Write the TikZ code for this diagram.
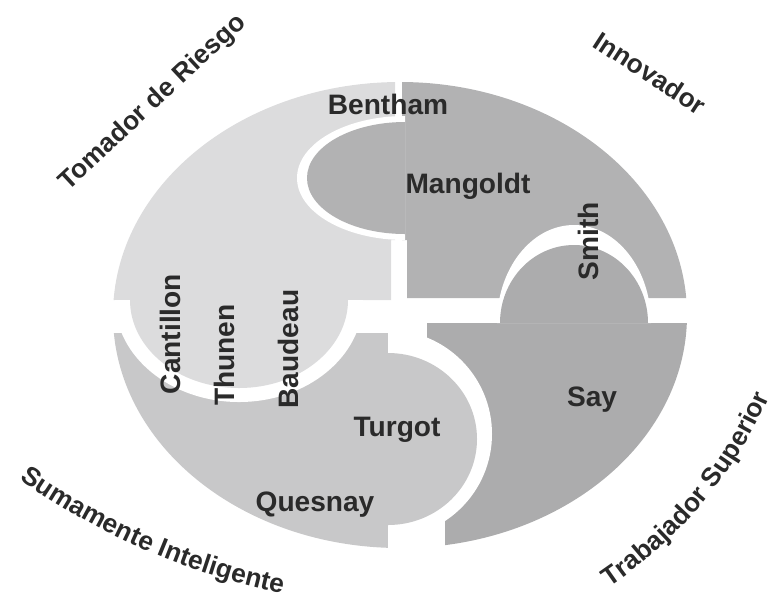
\documentclass[tikz,border=0pt]{standalone}
\usepackage{fontspec}
\setmainfont{Liberation Sans}
\usepackage{tikz}
\usetikzlibrary{decorations.text}
\definecolor{paleg}{HTML}{DCDCDD}
\definecolor{midg}{HTML}{C8C8C9}
\definecolor{darkg}{HTML}{B2B2B3}
\definecolor{deepg}{HTML}{ACACAD}
\definecolor{ink}{HTML}{2A2A2A}
\newcommand{\traitfont}{\fontsize{15}{18}\selectfont\bfseries}
\tikzset{
  thinker/.style={font=\fontsize{16}{19}\selectfont\bfseries, text=ink,
    inner sep=0pt},
  thinkerup/.style={thinker, rotate=90},
  trait/.style={font=\traitfont, text=ink, inner sep=0pt},
  traitarc/.style={decorate, decoration={text along path, text align=center,
    text color=ink, text={|\traitfont|#1}}},
  gap/.style={fill=white},
}

\begin{document}
\begin{tikzpicture}[x=0.02cm, y=-0.02cm]
\useasboundingbox (0,0) rectangle (780,600);
\begin{scope}
\clip (400,315) ellipse [x radius=287, y radius=233];
% quarters
\fill[paleg] (100,60) -- (395,60) -- (395,240) -- (391,240) -- (391,300)
  -- (100,300) -- cycle;
\fill[darkg] (402,60) -- (700,60) -- (700,298) -- (407,298) -- (407,240)
  -- (402,240) -- cycle;
\fill[midg] (100,333) rectangle (388,570);
\fill[deepg] (427,323) -- (700,323) -- (700,570) -- (445,570) -- (445,470)
  -- (427,470) -- cycle;
% notches
\fill[gap] (405,116) arc[start angle=-90, end angle=-270, x radius=108, y radius=62] -- cycle;
\fill[gap] (651,323) arc[start angle=0, end angle=-180, x radius=77, y radius=98] -- cycle;
\fill[gap] (388,330) arc[start angle=-90, end angle=90, radius=104] -- cycle;
\fill[gap] (115,300) arc[start angle=180, end angle=0, x radius=124, y radius=102] -- cycle;
% bulges
\fill[darkg] (405,122) arc[start angle=-90, end angle=-270, x radius=98, y radius=56] -- cycle;
\fill[deepg] (648,323) arc[start angle=0, end angle=-180, x radius=74, y radius=78] -- cycle;
\fill[midg] (388,353) arc[start angle=-90, end angle=90, x radius=89, y radius=86] -- cycle;
\fill[paleg] (130,300) arc[start angle=180, end angle=0, x radius=109, y radius=88] -- cycle;
\end{scope}

\node[thinker] (bentham) at (388,104) {Bentham};
\node[thinker] (mangoldt) at (468,186) {Mangoldt};
\node[thinkerup] (smith) at (588,241) {Smith};
\node[thinker] (say) at (592,400) {Say};
\node[thinker] (turgot) at (397,430) {Turgot};
\node[thinker] (quesnay) at (315,505) {Quesnay};
\node[thinkerup] (cantillon) at (170,334) {Cantillon};
\node[thinkerup] (thunen) at (224,355) {Thunen};
\node[thinkerup] (baudeau) at (288,349) {Baudeau};

\node[trait, rotate=43] (riesgo) at (153,103) {Tomador de Riesgo};
\node[trait, rotate=-33] (innovador) at (650,73) {Innovador};
\coordinate (intelc) at (424,-92);
\coordinate (superc) at (358,214);
\path[traitarc=Sumamente Inteligente]
  (intelc) ++(128:700) arc[start angle=128, end angle=99, radius=700];
\path[traitarc=Trabajador Superior]
  (superc) ++(62:450) arc[start angle=62, end angle=18, radius=450];
\end{tikzpicture}
\end{document}
